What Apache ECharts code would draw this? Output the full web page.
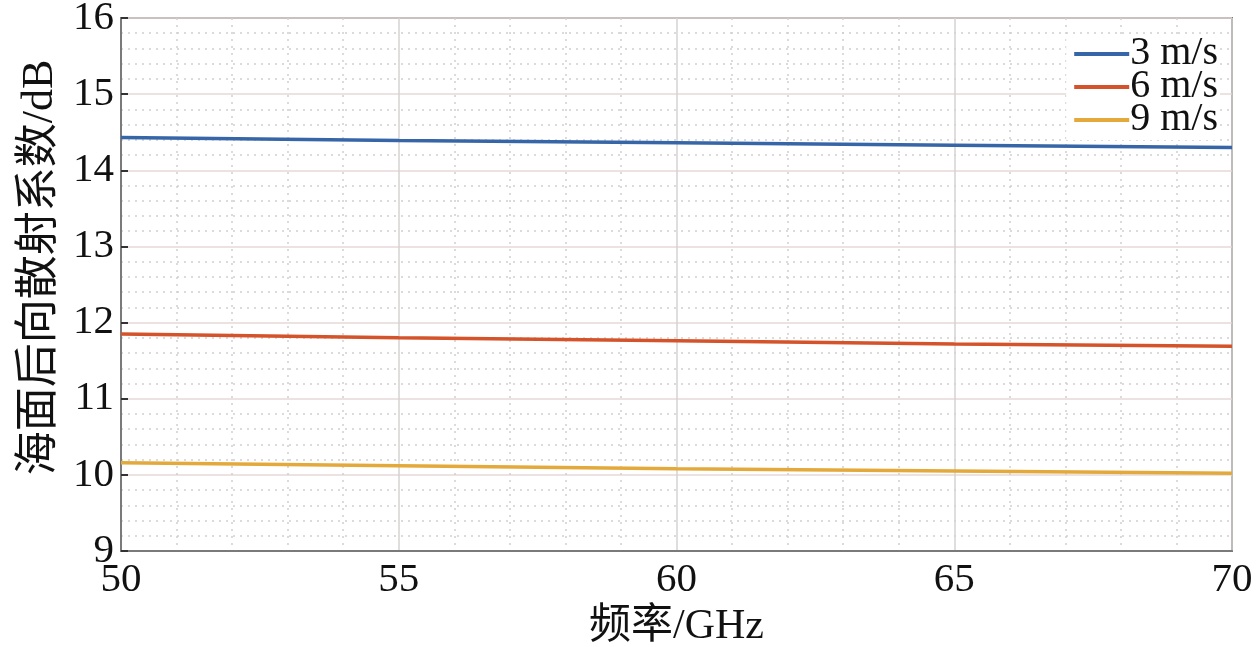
<!DOCTYPE html>
<html><head><meta charset="utf-8">
<script src="https://cdn.jsdelivr.net/npm/echarts@6/dist/echarts.min.js"></script>
<style>html,body{margin:0;padding:0;background:#fff}#c{width:1260px;height:647px}</style>
</head><body><div id="c"></div>
<script>
const freqs = [50, 55, 60, 65, 70];
const seriesNames = ['3 m/s', '6 m/s', '9 m/s'];
const v3 = [14.43, 14.39, 14.36, 14.33, 14.30];
const v6 = [11.85, 11.80, 11.76, 11.72, 11.69];
const v9 = [10.16, 10.12, 10.08, 10.05, 10.02];
const colors = ['#3766a8', '#d4532a', '#e4a93b'];
const xName = '频率/GHz';
const yName = '海面后向散射系数/dB';

const font = '"Liberation Serif","Noto Sans CJK SC",serif';
const chart = echarts.init(document.getElementById('c'));
const mk = (name, vals, i) => ({
  name, type: 'line', showSymbol: false, symbol: 'none',
  data: freqs.map((f, k) => [f, vals[k]]),
  lineStyle: { color: colors[i], width: 3.5 }, itemStyle: { color: colors[i] }
});
chart.setOption({
  animation: false,
  textStyle: { fontFamily: font },
  grid: { left: 121, right: 28, top: 18, bottom: 96, containLabel: false, outerBoundsMode: 'none', show: true, borderColor: '#7a7a7a', borderWidth: 2, backgroundColor: 'transparent' },
  legend: {
    right: 40, top: 34, orient: 'vertical', itemGap: -7, itemWidth: 55, itemHeight: 4,
    backgroundColor: '#fff', padding: [0, 2, 0, 8],
    textStyle: { fontFamily: font, fontSize: 40, color: '#111', padding: [0, 0, 0, -4] },
    icon: 'rect',
    data: seriesNames
  },
  xAxis: {
    type: 'value', min: 50, max: 70, interval: 5,
    name: xName, nameLocation: 'middle', nameGap: 52,
    nameTextStyle: { fontFamily: font, fontSize: 42, color: '#111' },
    axisLine: { show: true, lineStyle: { color: '#7a7a7a', width: 2 } },
    axisTick: { show: false },
    axisLabel: { fontFamily: font, fontSize: 41, color: '#111', margin: 9 },
    splitLine: { show: true, lineStyle: { color: '#d6d2d2', width: 1.5 } },
    minorTick: { show: false, splitNumber: 5 },
    minorSplitLine: { show: true, lineStyle: { color: '#cfcfcf', width: 1.5, type: [2, 5] } }
  },
  yAxis: {
    type: 'value', min: 9, max: 16, interval: 1,
    name: yName, nameLocation: 'middle', nameGap: 55,
    nameTextStyle: { fontFamily: font, fontSize: 44, color: '#111', padding: [0, 0, 0, 34] },
    axisLine: { show: true, lineStyle: { color: '#7a7a7a', width: 2 } },
    axisTick: { show: true, inside: true, length: 7, lineStyle: { color: '#333', width: 2 } },
    axisLabel: { fontFamily: font, fontSize: 41, color: '#111', margin: 7 },
    splitLine: { show: true, lineStyle: { color: '#e6d8d8', width: 1.5 } },
    minorTick: { show: false, splitNumber: 5 },
    minorSplitLine: { show: true, lineStyle: { color: '#cfcfcf', width: 1.5, type: [2, 5] } }
  },
  series: [mk(seriesNames[0], v3, 0), mk(seriesNames[1], v6, 1), mk(seriesNames[2], v9, 2)]
});
</script></body></html>
